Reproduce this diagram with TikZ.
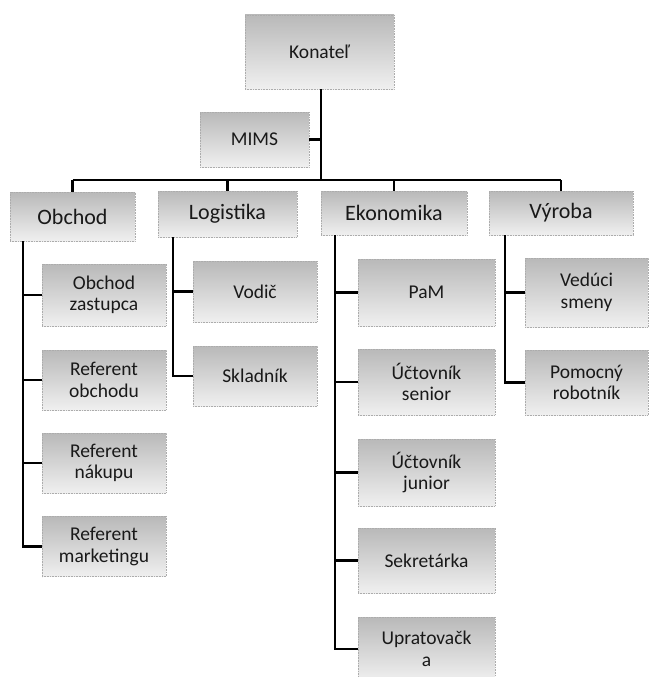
\documentclass[tikz,border=0pt]{standalone}
\usepackage{fontspec}
\setmainfont{Carlito}
\usetikzlibrary{positioning}
\tikzset{
    box/.style = {rectangle, draw=gray!65, densely dotted, line width=0.6pt,
                  top color=gray!55, bottom color=gray!12, align=center,
                  text=black!90, font=\fontsize{19.5}{21.5}\selectfont,
                  inner sep=0pt},
    headbox/.style = {box, font=\fontsize{22}{24}\selectfont},
    link/.style = {line width=2.4pt, black, solid}
}
\begin{document}
\begin{tikzpicture}[x=1pt,y=-1pt]
\useasboundingbox (0,0) rectangle (651,677);
\fill[white] (0,0) rectangle (651,677);
\clip (0,0) rectangle (651,677);
%
\node[box, minimum width=149, minimum height=74] at (319.5,52) (kon) {Konateľ};
\node[box, minimum width=109, minimum height=55] at (254.5,139.5) (mims) {MIMS};
\coordinate (bus) at (321,180);
%
\node[headbox, minimum width=125, minimum height=49] at (72.5,216.5) (obchod) {Obchod};
\node[headbox, minimum width=139, minimum height=46] at (227.5,214) (logist) {Logistika};
\node[headbox, minimum width=146, minimum height=44] at (394,213) (ekon) {Ekonomika};
\node[headbox, minimum width=144, minimum height=44] at (561,213) (vyroba) {Výroba};
%
\node[box, minimum width=124, minimum height=62] at (104,295) (oz) {Obchod\\zastupca};
\node[box, minimum width=124, minimum height=60] at (104,380) (ro) {Referent\\obchodu};
\node[box, minimum width=124, minimum height=60] at (104,463) (rn) {Referent\\nákupu};
\node[box, minimum width=124, minimum height=60] at (104,546.5) (rm) {Referent\\marketingu};
%
\node[box, minimum width=124, minimum height=61] at (255,291.5) (vod) {Vodič};
\node[box, minimum width=124, minimum height=60] at (255,376) (skl) {Skladník};
%
\node[box, minimum width=137, minimum height=67] at (426.5,292.5) (pam) {PaM};
\node[box, minimum width=137, minimum height=66] at (426.5,382) (us) {Účtovník\\senior};
\node[box, minimum width=137, minimum height=67] at (426.5,472.5) (uj) {Účtovník\\junior};
\node[box, minimum width=137, minimum height=65] at (426.5,560.5) (sek) {Sekretárka};
\node[box, minimum width=137, minimum height=64] at (426.5,649) (upr) {Upratovačk\\a};
%
\node[box, minimum width=123, minimum height=69] at (586.5,292.5) (vs) {Vedúci\\smeny};
\node[box, minimum width=123, minimum height=65] at (586.5,382.5) (pr) {Pomocný\\robotník};
%
\draw[link] ([xshift=1.5]kon.south) -- ([xshift=1.5]kon.south |- bus);
\draw[link] (mims.east) -- (mims.east -| bus);
\draw[link] (obchod.north |- bus) -- (vyroba.north |- bus);
\draw[link] (obchod.north |- bus) -- (obchod.north);
\draw[link] (logist.north |- bus) -- (logist.north);
\draw[link] (ekon.north |- bus) -- (ekon.north);
\draw[link] (vyroba.north |- bus) -- (vyroba.north);
%
\draw[link] ([xshift=13]obchod.south west) |- (oz.west);
\draw[link] ([xshift=13]obchod.south west) |- (ro.west);
\draw[link] ([xshift=13]obchod.south west) |- (rn.west);
\draw[link] ([xshift=13]obchod.south west) |- (rm.west);
\draw[link] ([xshift=15]logist.south west) |- (vod.west);
\draw[link] ([xshift=15]logist.south west) |- (skl.west);
\draw[link] ([xshift=14]ekon.south west) |- (pam.west);
\draw[link] ([xshift=14]ekon.south west) |- (us.west);
\draw[link] ([xshift=14]ekon.south west) |- (uj.west);
\draw[link] ([xshift=14]ekon.south west) |- (sek.west);
\draw[link] ([xshift=14]ekon.south west) |- (upr.west);
\draw[link] ([xshift=16]vyroba.south west) |- (vs.west);
\draw[link] ([xshift=16]vyroba.south west) |- (pr.west);
\end{tikzpicture}
\end{document}
